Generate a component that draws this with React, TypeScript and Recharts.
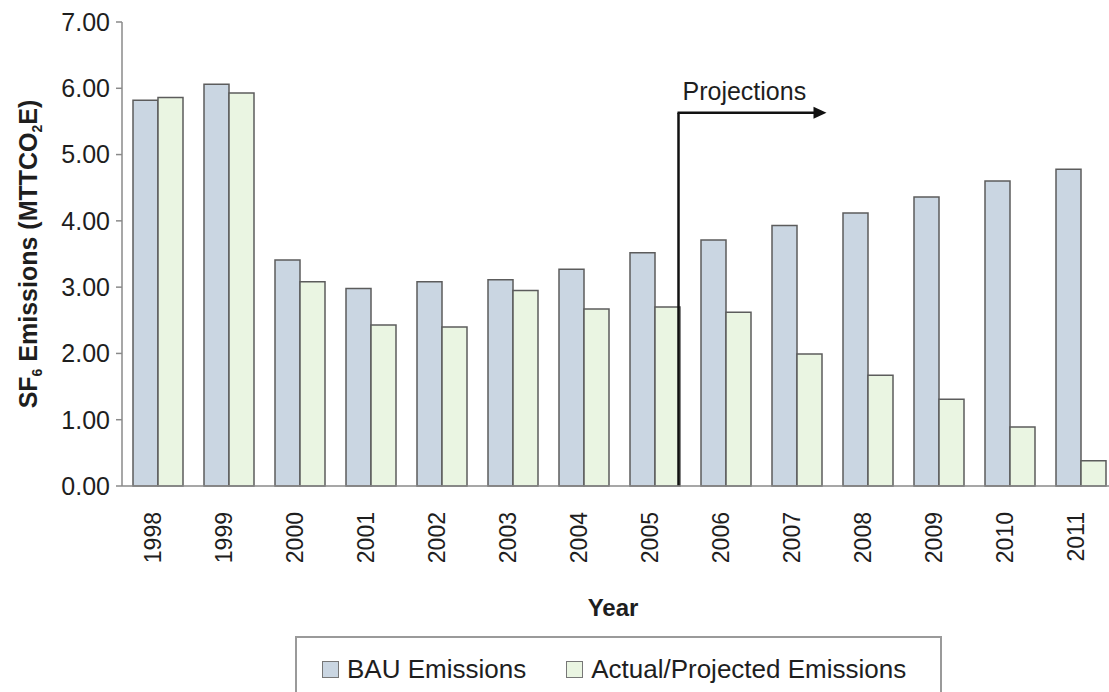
import { BarChart, Bar, XAxis, YAxis, Legend, ReferenceLine } from 'recharts';

const years = ['1998', '1999', '2000', '2001', '2002', '2003', '2004', '2005', '2006', '2007', '2008', '2009', '2010', '2011'];
const bauEmissions = [5.82, 6.06, 3.41, 2.98, 3.08, 3.11, 3.27, 3.52, 3.71, 3.93, 4.12, 4.36, 4.6, 4.78];
const actualEmissions = [5.86, 5.93, 3.08, 2.43, 2.4, 2.95, 2.67, 2.7, 2.62, 1.99, 1.67, 1.31, 0.89, 0.38];
const yTicks = [0, 1, 2, 3, 4, 5, 6, 7];
const projectionStart = '2005';
const projectionEnd = '2007';
const projectionLevel = 5.63;

const series = [
  { key: 'bau', name: 'BAU Emissions', fill: '#cad6e2' },
  { key: 'actual', name: 'Actual/Projected Emissions', fill: '#eaf5e2' },
];

const data = years.map((year, i) => ({
  year,
  bau: bauEmissions[i],
  actual: actualEmissions[i],
}));

const FONT = '"Liberation Sans", Arial, sans-serif';
const TEXT = '#1e1e1e';
const AXIS = '#8a8a8a';
const EDGE = '#5c5c5c';
const BAR_W = 25;

const XTick = ({ x, y, payload }: any) => (
  <text
    transform={`translate(${x + 3}, ${y + 18}) rotate(-90)`}
    textAnchor="end"
    fontSize={23}
    fontFamily={FONT}
    fill={TEXT}
  >
    {payload.value}
  </text>
);

const YLabel = ({ viewBox }: any) => {
  const cy = viewBox.y + viewBox.height / 2;
  return (
    <text
      transform={`translate(37, ${cy}) rotate(-90)`}
      textAnchor="middle"
      fontSize={25}
      fontWeight="bold"
      fontFamily={FONT}
      fill={TEXT}
    >
      SF<tspan fontSize={14} dy={5}>6</tspan>
      <tspan dy={-5}> Emissions (MTTCO</tspan>
      <tspan fontSize={14} dy={5}>2</tspan>
      <tspan dy={-5}>E)</tspan>
    </text>
  );
};

const XLabel = ({ viewBox }: any) => (
  <text
    x={viewBox.x + viewBox.width / 2 - 6}
    y={616}
    textAnchor="middle"
    fontSize={24}
    fontWeight="bold"
    fontFamily={FONT}
    fill={TEXT}
  >
    Year
  </text>
);

const VerticalArrow = ({ x1, y1, y2 }: any) => (
  <line x1={x1 + BAR_W - 1} x2={x1 + BAR_W - 1} y1={y1} y2={y2} stroke="#111" strokeWidth={2.5} />
);

const HorizontalArrow = ({ x1, x2, y1 }: any) => {
  const sx = x1 + BAR_W - 1;
  const ex = x2 + BAR_W + 5;
  return (
    <g>
      <line x1={sx - 1} x2={ex - 12} y1={y1} y2={y1} stroke="#111" strokeWidth={2.5} />
      <polygon points={`${ex},${y1} ${ex - 13},${y1 - 6} ${ex - 13},${y1 + 6}`} fill="#111" />
      <text x={sx + 4} y={y1 - 13} fontSize={25} fontFamily={FONT} fill={TEXT}>
        Projections
      </text>
    </g>
  );
};

const LegendBox = () => (
  <div
    style={{
      boxSizing: 'border-box',
      width: 647,
      height: 64,
      border: '2px solid #9a9a9a',
      display: 'flex',
      alignItems: 'flex-start',
      paddingTop: 18,
      paddingLeft: 25,
      fontFamily: FONT,
      fontSize: 26,
      color: TEXT,
    }}
  >
    {series.map((s, i) => (
      <div key={s.key} style={{ display: 'flex', alignItems: 'center', marginRight: i === 0 ? 40 : 0 }}>
        <span
          style={{
            display: 'inline-block',
            boxSizing: 'border-box',
            width: 17,
            height: 17,
            background: s.fill,
            border: '1.5px solid #777',
            marginRight: 8,
          }}
        />
        <span style={{ lineHeight: '26px' }}>{s.name}</span>
      </div>
    ))}
  </div>
);

export default function App() {
  return (
    <div style={{ width: 1109, height: 692, overflow: 'hidden', position: 'relative', background: '#fff' }}>
      <style>{'body{margin:0}'}</style>
      <BarChart
        width={1120}
        height={700}
        data={data}
        margin={{ top: 22, right: 4, bottom: 0, left: 0 }}
        barGap={0}
        barSize={BAR_W}
      >
        <XAxis
          dataKey="year"
          height={150}
          tick={<XTick />}
          tickLine={false}
          axisLine={{ stroke: AXIS, strokeWidth: 1.5 }}
          interval={0}
          label={<XLabel />}
        />
        <YAxis
          width={122}
          domain={[0, 7]}
          ticks={yTicks}
          tickFormatter={(v: number) => v.toFixed(2)}
          tick={{ fontSize: 25, fontFamily: FONT, fill: TEXT }}
          tickSize={6}
          tickMargin={6}
          tickLine={{ stroke: AXIS, strokeWidth: 1.5 }}
          axisLine={{ stroke: AXIS, strokeWidth: 1.5 }}
          label={<YLabel />}
        />
        <Legend
          verticalAlign="bottom"
          align="left"
          wrapperStyle={{ left: 295, width: 647 }}
          content={<LegendBox />}
        />
        {series.map((s) => (
          <Bar
            key={s.key}
            dataKey={s.key}
            name={s.name}
            fill={s.fill}
            stroke={EDGE}
            strokeWidth={1.5}
            isAnimationActive={false}
          />
        ))}
        <ReferenceLine
          segment={[{ x: projectionStart, y: 0 }, { x: projectionStart, y: projectionLevel }]}
          shape={<VerticalArrow />}
        />
        <ReferenceLine
          segment={[{ x: projectionStart, y: projectionLevel }, { x: projectionEnd, y: projectionLevel }]}
          shape={<HorizontalArrow />}
        />
      </BarChart>
    </div>
  );
}
